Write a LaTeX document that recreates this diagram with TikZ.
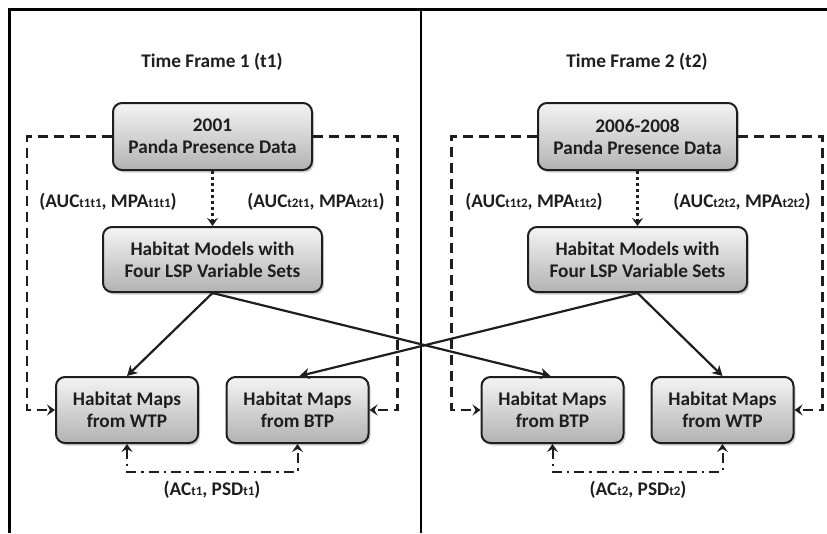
\documentclass[tikz,border=0pt]{standalone}
\usepackage{fontspec}
\setmainfont{Carlito}
\usetikzlibrary{arrows.meta,shadows}

\definecolor{boxtop}{HTML}{F4F4F4}
\definecolor{boxbot}{HTML}{B2B2B2}
\definecolor{ink}{HTML}{1E1E1E}
\newcommand\lowidx[1]{{\fontsize{13}{13}\selectfont #1}}

\tikzset{
  every node/.style={font=\bfseries\fontsize{19.3}{22}\selectfont, text=ink},
  procbox/.style={draw=ink, line width=2pt, rounded corners=9pt,
    top color=boxtop, bottom color=boxbot, align=center,
    drop shadow={shadow xshift=2pt, shadow yshift=-2.5pt, opacity=0.35},
    inner sep=0pt},
  topbox/.style={procbox, minimum width=199pt, minimum height=67pt},
  midbox/.style={procbox, minimum width=219pt, minimum height=65pt},
  mapbox/.style={procbox, minimum width=142pt, minimum height=66pt},
  evalln/.style={draw=ink, line width=2.4pt, dash pattern=on 10pt off 6pt, -{Stealth[length=8pt, width=11pt, inset=3pt]}},
  dotln/.style={draw=ink, line width=3pt, dash pattern=on 3pt off 3pt, -{Stealth[length=8pt, width=11pt, inset=3pt]}},
  flowln/.style={draw=ink, line width=2.2pt, -{Stealth[length=10pt, width=11pt, inset=3pt]}},
  cmpln/.style={draw=ink, line width=2pt, dash pattern=on 10pt off 5pt on 2.5pt off 5pt,
    {Stealth[length=8pt, width=11pt, inset=3pt]}-{Stealth[length=8pt, width=11pt, inset=3pt]}},
  framesep/.style={draw=black, line width=3pt},
}

\begin{document}
\begin{tikzpicture}[x=1pt, y=-1pt]
\useasboundingbox (0,0) rectangle (827,533);

% panel frame and divider
\draw[framesep] (9,533) -- (9,9) -- (827,9);
\draw[draw=black, line width=2.2pt] (421,9) -- (421,533);

% titles
\node (title1) at (212,62) {Time Frame 1 (t1)};
\node (title2) at (637,62) {Time Frame 2 (t2)};

% time frame 1
\node[topbox] (top1) at (212.5,136.5) {2001\\Panda Presence Data};
\node[midbox] (mid1) at (212.5,259.5) {Habitat Models with\\Four LSP Variable Sets};
\node[mapbox] (w1) at (127,410) {Habitat Maps\\from WTP};
\node[mapbox] (b1) at (297.5,410) {Habitat Maps\\from BTP};

% time frame 2
\node[topbox] (top2) at (637.5,136.5) {2006-2008\\Panda Presence Data};
\node[midbox] (mid2) at (637.5,259.5) {Habitat Models with\\Four LSP Variable Sets};
\node[mapbox] (b2) at (552.5,410) {Habitat Maps\\from BTP};
\node[mapbox] (w2) at (722.5,410) {Habitat Maps\\from WTP};

% evaluation paths
\draw[evalln] (top1.west) -| ([xshift=-28pt]w1.west) -- (w1.west);
\draw[evalln] (top1.east) -| ([xshift=28pt]b1.east) -- (b1.east);
\draw[evalln] (top2.west) -| ([xshift=-29pt]b2.west) -- (b2.west);
\draw[evalln] (top2.east) -| ([xshift=28pt]w2.east) -- (w2.east);

\draw[dotln] (top1.south) -- (mid1.north);
\draw[dotln] (top2.south) -- (mid2.north);

% model projections
\draw[flowln] (mid1.south) -- (w1.north);
\draw[flowln] (mid1.south) -- ([xshift=-2pt]b2.north);
\draw[flowln] (mid2.south) -- (w2.north);
\draw[flowln] (mid2.south) -- ([xshift=2pt]b1.north);

% map comparisons
\draw[cmpln] (w1.south) -- ++(0,28) -| (b1.south);
\draw[cmpln] (b2.south) -- ++(0,28) -| (w2.south);

% labels
\node (l11) at (108,202) {(AUC\lowidx{t1t1}, MPA\lowidx{t1t1})};
\node (l21) at (316,202) {(AUC\lowidx{t2t1}, MPA\lowidx{t2t1})};
\node (l12) at (534,202) {(AUC\lowidx{t1t2}, MPA\lowidx{t1t2})};
\node (l22) at (742,202) {(AUC\lowidx{t2t2}, MPA\lowidx{t2t2})};
\node (c1) at (212,490) {(AC\lowidx{t1}, PSD\lowidx{t1})};
\node (c2) at (638,490) {(AC\lowidx{t2}, PSD\lowidx{t2})};
\end{tikzpicture}
\end{document}
